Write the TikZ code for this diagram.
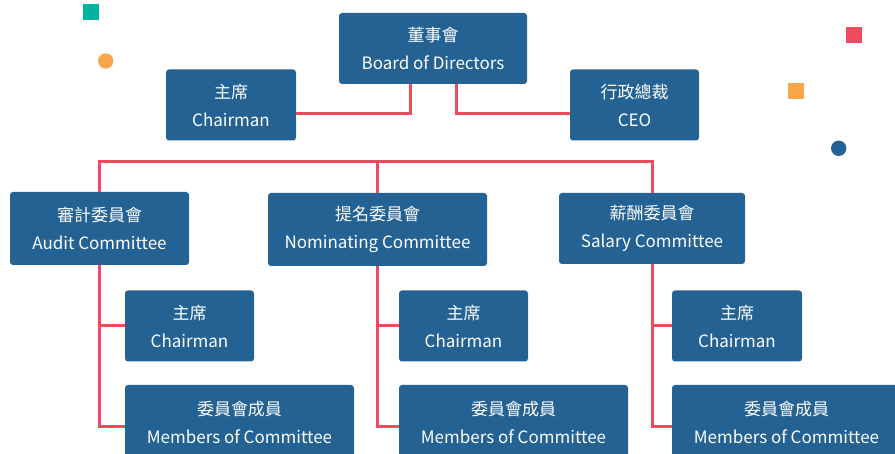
\documentclass[tikz,border=0pt]{standalone}
\usepackage{fontspec}
\setmainfont{Noto Sans CJK TC}
\definecolor{boxblue}{HTML}{246294}
\definecolor{linered}{HTML}{F04A5E}
\definecolor{teal}{HTML}{00B39C}
\definecolor{orng}{HTML}{F9A54B}
\begin{document}
\begin{tikzpicture}[x=1pt,y=-1pt,
  box/.style={fill=boxblue, rounded corners=3pt, text=white, align=center,
    font=\fontsize{17}{28}\selectfont, inner sep=0pt, minimum height=71pt},
  conn/.style={draw=linered, line width=3pt}]
\useasboundingbox (0,0) rectangle (895,454);
% decorations
\fill[teal] (83,4) rectangle (99,20);
\fill[orng] (105.7,61) circle (7.7);
\fill[linered] (846,27) rectangle (862,43);
\fill[orng] (788,83) rectangle (804,99);
\fill[boxblue] (838.7,148.3) circle (7.7);
% top level
\node[box, minimum width=188pt] (board) at (433,48.5) {董事會\\Board of Directors};
\node[box, minimum width=130pt] (lchair) at (231,105) {主席\\Chairman};
\node[box, minimum width=129pt] (ceo) at (634.5,105) {行政總裁\\CEO};
% committees
\node[box, minimum width=179pt, minimum height=73pt] (audit) at (99.5,228.5) {審計委員會\\Audit Committee};
\node[box, minimum width=219pt, minimum height=73pt] (nom) at (377.5,229.5) {提名委員會\\Nominating Committee};
\node[box, minimum width=186pt] (sal) at (652,228.5) {薪酬委員會\\Salary Committee};
% chairmen
\node[box, minimum width=129pt] (achair) at (189.5,326) {主席\\Chairman};
\node[box, minimum width=129pt] (nchair) at (463.5,326) {主席\\Chairman};
\node[box, minimum width=130pt] (schair) at (737,326) {主席\\Chairman};
% members
\node[box, minimum width=229pt, minimum height=75pt] (amem) at (239.5,422.5) {委員會成員\\Members of Committee};
\node[box, minimum width=229pt, minimum height=75pt] (nmem) at (513.5,422.5) {委員會成員\\Members of Committee};
\node[box, minimum width=229pt, minimum height=75pt] (smem) at (786.5,422.5) {委員會成員\\Members of Committee};
% connectors
\draw[conn] ([xshift=-23pt]board.south) |- ([yshift=-9pt]lchair.east);
\draw[conn] ([xshift=23pt]board.south) |- ([yshift=-9pt]ceo.west);
\coordinate (bus) at (0,162);
\draw[conn] (audit.north) -- (audit.north |- bus) -| (sal.north);
\draw[conn] (nom.north) -- (nom.north |- bus);
\foreach \c/\ch/\m in {audit/achair/amem, nom/nchair/nmem, sal/schair/smem}{
  \draw[conn] (\c.south) |- ([yshift=-4.5pt]\m.west);
  \draw[conn] (\c.south |- \ch.west) -- (\ch.west);
}
\end{tikzpicture}
\end{document}
